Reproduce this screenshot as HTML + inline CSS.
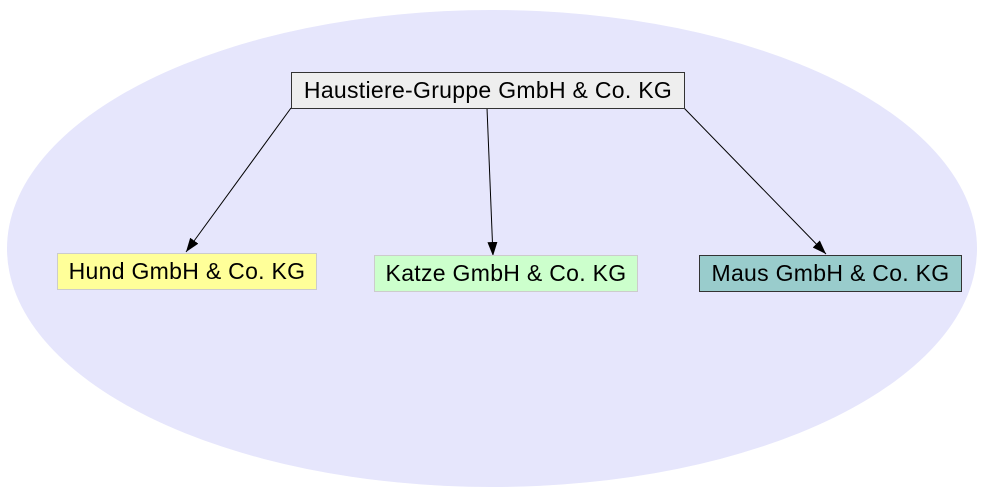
<!DOCTYPE html>
<html><head><style>
body{margin:0;background:#fff;width:998px;height:496px;overflow:hidden}
.b{position:absolute;box-sizing:border-box;font-family:"Liberation Sans",sans-serif;font-size:23px;letter-spacing:0.3px;display:flex;align-items:center;justify-content:center;color:#000;white-space:nowrap}
</style></head><body>
<svg width="998" height="496" style="position:absolute;left:0;top:0">
<ellipse cx="492" cy="248.5" rx="485" ry="238.5" fill="#e6e6fc"/>
<defs><marker id="a" markerWidth="14" markerHeight="10" refX="14" refY="5" orient="auto" markerUnits="userSpaceOnUse"><path d="M0,0L14,5L0,10z" fill="#000"/></marker></defs>
<g stroke="#000" stroke-width="1" marker-end="url(#a)">
<line x1="291" y1="108" x2="186" y2="252"/>
<line x1="487" y1="108" x2="493" y2="256"/>
<line x1="684" y1="108" x2="826" y2="254"/>
</g>
</svg>
<div class="b" style="left:291px;top:72px;width:394px;height:37px;background:#eeeeee;border:1px solid #333">Haustiere-Gruppe GmbH &amp; Co. KG</div>
<div class="b" style="left:57px;top:253px;width:260px;height:37px;background:#ffff99;border:1px solid #ccc">Hund GmbH &amp; Co. KG</div>
<div class="b" style="left:374px;top:255px;width:264px;height:37px;background:#ccffcc;border:1px solid #ccc">Katze GmbH &amp; Co. KG</div>
<div class="b" style="left:699px;top:255px;width:263px;height:37px;background:#99cccc;border:1px solid #333">Maus GmbH &amp; Co. KG</div>
</body></html>
